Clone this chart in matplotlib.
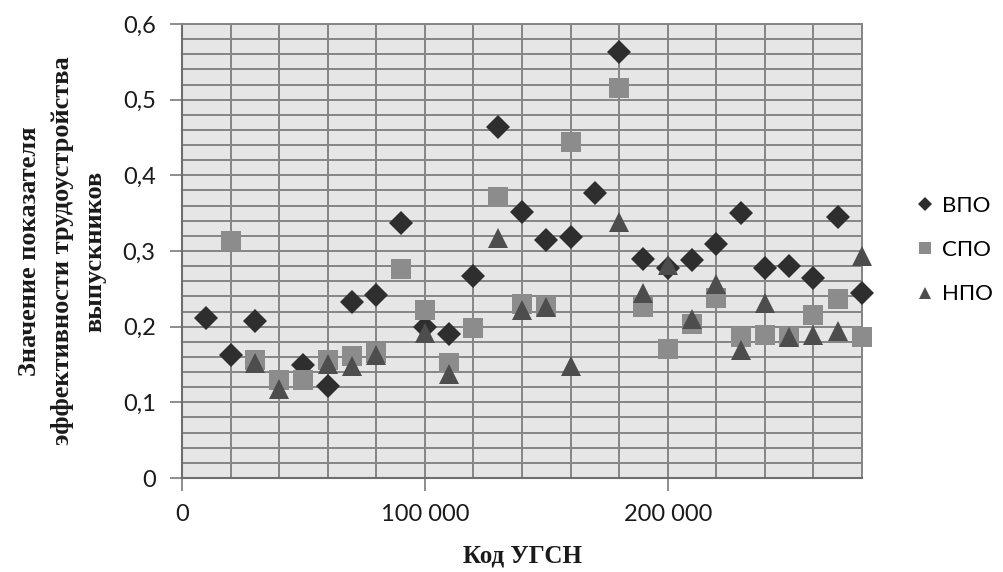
import matplotlib

matplotlib.use("Agg")
import matplotlib.pyplot as plt
import numpy as np
from matplotlib.ticker import FuncFormatter, MultipleLocator

nan = np.nan

# Код УГСН (x) and indicator values for three education levels
codes = [10000, 20000, 30000, 40000, 50000, 60000, 70000, 80000, 90000, 100000,
         110000, 120000, 130000, 140000, 150000, 160000, 170000, 180000, 190000, 200000,
         210000, 220000, 230000, 240000, 250000, 260000, 270000, 280000]
vpo = [0.211, 0.162, 0.208, nan, 0.150, 0.121, 0.232, 0.242, 0.337, 0.200,
       0.190, 0.267, 0.464, 0.351, 0.315, 0.319, 0.377, 0.563, 0.290, 0.278,
       0.288, 0.309, 0.350, 0.277, 0.280, 0.264, 0.345, 0.245]
spo = [nan, 0.313, 0.156, 0.129, 0.130, 0.156, 0.161, 0.165, 0.276, 0.222,
       0.152, 0.198, 0.372, 0.230, 0.228, 0.444, nan, 0.515, 0.226, 0.171,
       0.203, 0.238, 0.187, 0.189, 0.187, 0.215, 0.237, 0.187]
npo = [nan, nan, 0.152, 0.117, nan, 0.151, 0.148, 0.162, nan, 0.192,
       0.138, nan, 0.317, 0.222, 0.226, 0.148, nan, 0.339, 0.245, 0.282,
       0.210, 0.257, 0.169, 0.231, 0.186, 0.189, 0.194, 0.294]

series = [
    ("ВПО", vpo, "D", "#2e2e2e", 12.5),
    ("СПО", spo, "s", "#8c8c8c", 14),
    ("НПО", npo, "^", "#4d4d4d", 14),
]

plt.rcParams["font.family"] = ["Lato", "DejaVu Sans"]

fig = plt.figure(figsize=(10.04, 5.72), dpi=100)
ax = fig.add_axes([0.1813, 0.1643, 0.6773, 0.7937])
ax.set_facecolor("#e6e6e6")

for label, vals, marker, color, ms in series:
    ax.plot(codes, vals, linestyle="none", marker=marker, color=color,
            markersize=ms, markeredgewidth=0, label=label, zorder=3, clip_on=False)

ax.set_xlim(0, 280000)
ax.set_ylim(0, 0.6)
ax.xaxis.set_major_locator(MultipleLocator(100000))
ax.xaxis.set_minor_locator(MultipleLocator(20000))
ax.yaxis.set_major_locator(MultipleLocator(0.1))
ax.yaxis.set_minor_locator(MultipleLocator(0.02))
ax.grid(True, which="both", color="#858585", lw=1.4, zorder=1)
ax.set_axisbelow(True)

ax.xaxis.set_major_formatter(FuncFormatter(lambda v, _: f"{int(round(v)):,}".replace(",", " ")))
ax.yaxis.set_major_formatter(FuncFormatter(lambda v, _: "0" if abs(v) < 1e-9 else f"{v:.1f}".replace(".", ",")))
ax.tick_params(which="major", length=9, width=1.3, color="#858585", labelsize=17,
               labelcolor="#1a1a1a", pad=10)
ax.tick_params(which="minor", length=0)
for side in ("left", "bottom"):
    ax.spines[side].set_color("#6e6e6e")
    ax.spines[side].set_linewidth(1.5)
for side in ("top", "right"):
    ax.spines[side].set_color("#858585")
    ax.spines[side].set_linewidth(1.4)

serif = dict(family="Liberation Serif", weight="bold", color="#1a1a1a")
ax.set_xlabel("Код УГСН", fontsize=18, labelpad=14, **serif)
fig.text(0.062, 0.561, "Значение показателя\nэффективности трудоустройства\nвыпускников",
         rotation=90, ha="center", va="center", multialignment="center",
         fontsize=19, linespacing=1.55, **serif)

ax.legend(loc="center left", bbox_to_anchor=(0.912, 0.563), bbox_transform=fig.transFigure,
          frameon=False, fontsize=16, markerscale=0.6, handlelength=0.8,
          handletextpad=0.4, labelspacing=1.1, borderpad=0, borderaxespad=0)

fig.savefig("out.png", dpi=100, facecolor="white")
